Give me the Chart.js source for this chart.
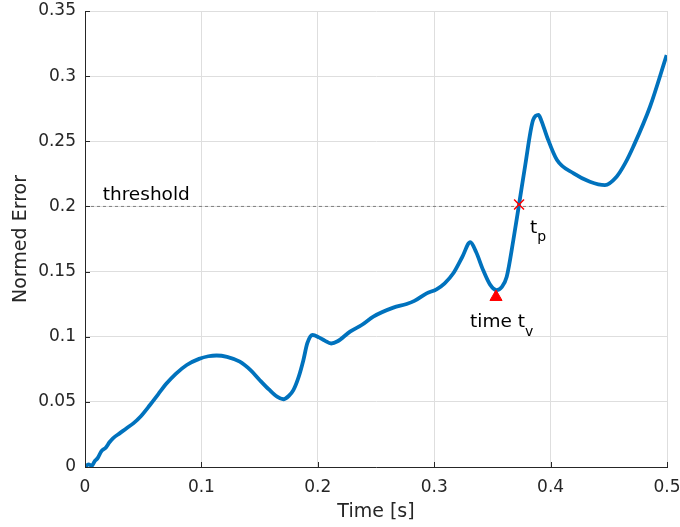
<!DOCTYPE html>
<html>
<head>
<meta charset="utf-8">
<script src="https://cdn.jsdelivr.net/npm/chart.js@4.4.1/dist/chart.umd.min.js"></script>
<style>
  html, body { margin: 0; padding: 0; background: #fff; }
  #wrap { width: 680px; height: 527px; }
</style>
</head>
<body>
<div id="wrap"><canvas id="errChart" width="680" height="527"></canvas></div>
<script>
// Normed error over time
const timeS = [0, 0.003, 0.006, 0.008, 0.011, 0.014, 0.018, 0.021, 0.024, 0.030, 0.036, 0.0415, 0.048, 0.0558,
  0.063, 0.0702, 0.078, 0.0874, 0.098, 0.106, 0.113, 0.122, 0.133, 0.142, 0.150, 0.158, 0.165, 0.1704, 0.175,
  0.179, 0.1835, 0.1876, 0.191, 0.1955, 0.201, 0.206, 0.2115, 0.217, 0.2277, 0.2377, 0.2477, 0.2649, 0.2763,
  0.283, 0.2935, 0.302, 0.309, 0.3164, 0.324, 0.331, 0.336, 0.342, 0.348, 0.3537, 0.358, 0.3623, 0.368, 0.3729,
  0.378, 0.385, 0.3896, 0.392, 0.3969, 0.4055, 0.4198, 0.4338, 0.4467, 0.4567, 0.464, 0.471, 0.4854, 0.4997];
const normedError = [0, 0.002, 0.001, 0.004, 0.007, 0.012, 0.015, 0.019, 0.022, 0.026, 0.030, 0.0335, 0.039, 0.0476,
  0.056, 0.0642, 0.0715, 0.0783, 0.0830, 0.0850, 0.0856, 0.0845, 0.0808, 0.0745, 0.0668, 0.0595, 0.0540, 0.0520, 0.0545,
  0.059, 0.069, 0.082, 0.095, 0.1013, 0.0995, 0.0970, 0.0948, 0.0965, 0.1039, 0.1090, 0.1154, 0.1223, 0.1251,
  0.1275, 0.1333, 0.1364, 0.1410, 0.1487, 0.1610, 0.1725, 0.1650, 0.1512, 0.1400, 0.1358, 0.1380, 0.1460, 0.1742, 0.2016,
  0.2305, 0.2664, 0.2702, 0.2660, 0.2535, 0.2356, 0.2254, 0.2190, 0.2164, 0.2228, 0.2330, 0.2458, 0.2765, 0.3162];

const thresholdValue = 0.2;
const valleyPoint = [0.3531, 0.1305];   // time t_v
const crossPoint = [0.3729, 0.2015];    // t_p

const xTicks = [0, 0.1, 0.2, 0.3, 0.4, 0.5];
const xTickLabels = ['0', '0.1', '0.2', '0.3', '0.4', '0.5'];
const yTicks = [0, 0.05, 0.1, 0.15, 0.2, 0.25, 0.3, 0.35];
const yTickLabels = ['0', '0.05', '0.1', '0.15', '0.2', '0.25', '0.3', '0.35'];

const FONT = "'DejaVu Sans', sans-serif";
const TEXT = '#262626';

const curve = timeS.map((t, i) => ({ x: t, y: normedError[i] }));

// inside tick marks + annotation text
const extras = {
  id: 'extras',
  afterDraw(chart) {
    const ctx = chart.ctx;
    const xs = chart.scales.x, ys = chart.scales.y;
    const area = chart.chartArea;
    ctx.save();
    ctx.strokeStyle = TEXT;
    ctx.lineWidth = 1;
    ctx.beginPath();
    xTicks.forEach(v => {
      const px = Math.round(xs.getPixelForValue(v)) + 0.5;
      ctx.moveTo(px, area.bottom);
      ctx.lineTo(px, area.bottom - 5);
    });
    yTicks.forEach(v => {
      const py = Math.round(ys.getPixelForValue(v)) + 0.5;
      ctx.moveTo(area.left, py);
      ctx.lineTo(area.left + 5, py);
    });
    ctx.stroke();

    ctx.fillStyle = '#000';
    ctx.textBaseline = 'alphabetic';
    ctx.textAlign = 'left';
    ctx.font = '18.5px ' + FONT;
    ctx.fillText('threshold', xs.getPixelForValue(0.0152), ys.getPixelForValue(thresholdValue) - 6);

    // t_p
    let bx = xs.getPixelForValue(crossPoint[0]) + 11;
    let by = ys.getPixelForValue(crossPoint[1]) + 29;
    ctx.font = '18.5px ' + FONT;
    ctx.fillText('t', bx, by);
    let w = ctx.measureText('t').width;
    ctx.font = '14px ' + FONT;
    ctx.fillText('p', bx + w, by + 8);

    // time t_v
    bx = xs.getPixelForValue(valleyPoint[0]) - 26;
    by = ys.getPixelForValue(valleyPoint[1]) + 30;
    ctx.font = '18.5px ' + FONT;
    ctx.fillText('time t', bx, by);
    w = ctx.measureText('time t').width;
    ctx.font = '14px ' + FONT;
    ctx.fillText('v', bx + w, by + 9);
    ctx.restore();
  }
};

new Chart(document.getElementById('errChart'), {
  type: 'scatter',
  data: {
    datasets: [
      {
        data: curve,
        showLine: true,
        borderColor: '#0072BD',
        borderWidth: 3.8,
        pointRadius: 0,
        cubicInterpolationMode: 'monotone',
        order: 2
      },
      {
        data: [{ x: 0, y: thresholdValue }, { x: 0.5, y: thresholdValue }],
        showLine: true,
        borderColor: '#808080',
        borderWidth: 1,
        borderDash: [3, 3],
        pointRadius: 0,
        order: 3
      },
      {
        data: [{ x: valleyPoint[0], y: valleyPoint[1] }],
        pointStyle: 'triangle',
        pointRadius: 7,
        backgroundColor: '#ff0000',
        borderColor: '#ff0000',
        borderWidth: 1,
        order: 1
      },
      {
        data: [{ x: crossPoint[0], y: crossPoint[1] }],
        pointStyle: 'crossRot',
        pointRadius: 7,
        borderColor: '#ff0000',
        borderWidth: 1.5,
        order: 1
      }
    ]
  },
  options: {
    responsive: false,
    animation: false,
    devicePixelRatio: 1,
    layout: { padding: { top: 11, right: 13, left: 0, bottom: 0 } },
    plugins: { legend: { display: false }, tooltip: { enabled: false } },
    scales: {
      x: {
        type: 'linear',
        min: 0,
        max: 0.5,
        afterBuildTicks: s => { s.ticks = xTicks.map(v => ({ value: v })); },
        afterFit: s => { s.height = 60; s.paddingLeft = 0; s.paddingRight = 0; },
        ticks: {
          callback: (v, i) => xTickLabels[i],
          font: { family: FONT, size: 17 },
          color: TEXT,
          padding: 10,
          maxRotation: 0
        },
        grid: { color: '#dedede', drawTicks: false },
        border: { display: true, color: TEXT, width: 1 },
        title: {
          display: true,
          text: 'Time [s]',
          font: { family: FONT, size: 19 },
          color: TEXT,
          padding: { top: 0, bottom: 4 }
        }
      },
      y: {
        type: 'linear',
        min: 0,
        max: 0.35,
        afterBuildTicks: s => { s.ticks = yTicks.map(v => ({ value: v })); },
        afterFit: s => { s.width = 85; s.paddingTop = 0; s.paddingBottom = 0; },
        ticks: {
          callback: (v, i) => yTickLabels[i],
          font: { family: FONT, size: 17 },
          color: TEXT,
          padding: 9
        },
        grid: { color: '#dedede', drawTicks: false },
        border: { display: true, color: TEXT, width: 1 },
        title: {
          display: true,
          text: 'Normed Error',
          font: { family: FONT, size: 19 },
          color: TEXT,
          padding: { top: 10, bottom: 0 }
        }
      }
    }
  },
  plugins: [extras]
});
</script>
</body>
</html>
